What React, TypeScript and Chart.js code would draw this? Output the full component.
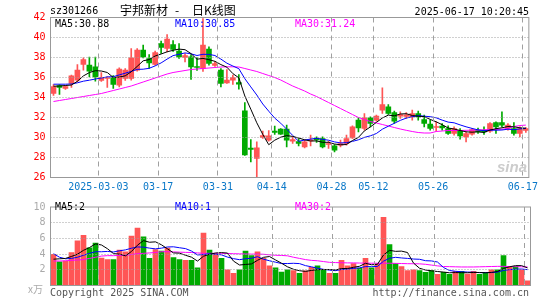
import React, { useEffect, useRef } from 'react';
import { Chart, registerables } from 'chart.js';

Chart.register(...registerables);

// ---------- data ----------
const dates = [
  '02-19','02-20','02-21','02-24','02-25','02-26','02-27','02-28',
  '03-03','03-04','03-05','03-06','03-07','03-10','03-11','03-12','03-13','03-14',
  '03-17','03-18','03-19','03-20','03-21','03-24','03-25','03-26','03-27','03-28',
  '03-31','04-01','04-02','04-03','04-07','04-08','04-09','04-10','04-11',
  '04-14','04-15','04-16','04-17','04-18','04-21','04-22','04-23','04-24','04-25',
  '04-28','04-29','04-30','05-06','05-07','05-08','05-09',
  '05-12','05-13','05-14','05-15','05-16','05-19','05-20','05-21','05-22','05-23',
  '05-26','05-27','05-28','05-29','05-30','06-03','06-04','06-05','06-06',
  '06-09','06-10','06-11','06-12','06-13','06-16','06-17',
];
const tickDates = ['03-03', '03-17', '03-31', '04-14', '04-28', '05-12', '05-26', '06-17'];
const tickTexts = ['2025-03-03', '03-17', '03-31', '04-14', '04-28', '05-12', '05-26', '06-17'];
const priceTicks = [28, 30, 32, 34, 36, 38, 40];
const volTicks = [2, 4, 6, 8];

const openP = [
  34.4, 35.2, 34.9, 35.4, 35.73, 37.3, 37.23, 37.07, 35.7, 35.9,
  36.0, 35.23, 35.9, 35.9, 36.73, 38.73, 37.9, 37.3, 39.4, 38.9,
  39.3, 38.63, 38.0, 38.07, 37.1, 36.9, 38.83, 37.2, 36.73, 35.47,
  35.73, 35.5, 32.67, 28.93, 27.9, 30.0, 29.73, 30.63, 30.83, 30.83,
  29.63, 29.6, 29.07, 29.67, 29.93, 29.9, 29.3, 29.17, 29.23, 29.4,
  29.97, 31.73, 30.9, 31.97, 31.73, 32.73, 33.07, 32.5, 32.13, 32.1,
  32.07, 32.4, 31.8, 31.33, 31.0, 31.13, 30.9, 30.4, 30.63, 30.07,
  30.33, 30.73, 30.73, 30.63, 31.5, 31.5, 30.9, 30.9, 30.4, 30.7,
];
const highP = [
  35.3, 35.3, 35.2, 36.23, 37.3, 37.97, 38.03, 38.03, 36.5, 36.1,
  36.2, 36.97, 36.9, 38.9, 38.9, 39.23, 38.3, 38.63, 39.63, 40.3,
  39.7, 39.4, 38.4, 38.3, 38.0, 41.9, 39.07, 37.6, 36.9, 36.8,
  36.23, 36.3, 33.5, 29.8, 29.57, 30.63, 30.7, 31.13, 30.9, 31.23,
  30.1, 29.9, 29.73, 30.23, 30.07, 30.07, 29.63, 29.3, 29.73, 30.23,
  31.17, 31.97, 32.4, 32.07, 32.23, 34.97, 33.3, 32.63, 32.57, 32.5,
  32.73, 32.63, 32.23, 31.73, 31.57, 31.4, 31.17, 31.07, 30.9, 30.57,
  30.9, 30.95, 31.07, 31.5, 31.57, 32.57, 31.4, 31.5, 31.07, 31.0,
];
const lowP = [
  34.2, 34.3, 34.8, 35.0, 35.57, 36.73, 36.07, 35.63, 35.6, 35.0,
  34.9, 35.07, 35.7, 35.73, 36.63, 37.97, 36.9, 37.23, 38.4, 38.57,
  38.6, 37.9, 37.57, 35.8, 36.7, 36.6, 37.23, 37.1, 35.07, 35.4,
  35.3, 34.83, 28.2, 27.57, 26.0, 29.9, 29.63, 30.3, 30.3, 29.07,
  29.4, 29.17, 28.97, 29.17, 29.5, 28.97, 28.9, 28.57, 29.07, 29.23,
  29.9, 30.57, 30.73, 31.07, 31.63, 32.4, 32.3, 31.4, 31.9, 31.9,
  31.73, 31.73, 31.07, 30.73, 30.63, 30.73, 30.3, 30.23, 29.83, 29.57,
  30.23, 30.4, 30.3, 30.5, 30.4, 31.07, 30.73, 30.23, 30.07, 30.5,
];
const closeP = [
  35.1, 35.0, 35.1, 36.17, 36.73, 37.8, 36.63, 36.07, 36.0, 36.0,
  35.3, 36.83, 36.73, 37.97, 38.73, 38.07, 37.47, 38.5, 39.0, 39.83,
  38.8, 38.07, 38.2, 37.07, 37.0, 39.23, 37.4, 37.4, 35.4, 35.73,
  36.0, 35.33, 28.27, 28.8, 28.97, 30.2, 30.17, 30.5, 30.33, 29.73,
  29.8, 29.4, 29.57, 29.77, 29.77, 29.07, 29.4, 28.73, 29.4, 29.9,
  31.07, 30.97, 31.97, 31.4, 32.13, 33.3, 32.4, 31.63, 32.3, 32.27,
  32.4, 32.07, 31.4, 30.9, 31.07, 30.97, 30.4, 30.9, 30.17, 30.4,
  30.8, 30.57, 30.57, 31.4, 31.07, 31.23, 31.23, 30.4, 30.9, 30.9,
];
const ma5 = [
  35.13, 35.15, 35.2, 35.25, 35.62, 36.16, 36.49, 36.68, 36.65, 36.5,
  36.0, 36.04, 36.17, 36.57, 37.11, 37.67, 37.79, 38.15, 38.35, 38.57,
  38.72, 38.84, 38.78, 38.39, 37.83, 37.91, 37.78, 37.62, 37.29, 37.03,
  36.39, 35.97, 34.15, 32.83, 31.47, 30.31, 29.28, 29.73, 30.03, 30.19,
  30.11, 29.95, 29.77, 29.65, 29.66, 29.52, 29.52, 29.35, 29.27, 29.3,
  29.7, 30.01, 30.66, 31.06, 31.51, 31.95, 32.24, 32.17, 32.35, 32.38,
  32.2, 32.13, 32.09, 31.81, 31.57, 31.28, 30.95, 30.85, 30.7, 30.57,
  30.53, 30.57, 30.5, 30.75, 30.88, 30.97, 31.1, 31.07, 30.97, 30.93,
];
const ma10 = [
  35.33, 35.33, 35.33, 35.35, 35.47, 35.63, 35.73, 35.85, 35.95, 36.06,
  36.08, 36.26, 36.43, 36.61, 36.81, 36.83, 36.92, 37.16, 37.46, 37.84,
  38.19, 38.32, 38.46, 38.37, 38.2, 38.32, 38.31, 38.2, 37.84, 37.43,
  37.15, 36.88, 35.88, 35.06, 34.25, 33.35, 32.63, 31.94, 31.43, 30.83,
  30.21, 29.62, 29.75, 29.84, 29.92, 29.81, 29.73, 29.56, 29.46, 29.48,
  29.61, 29.77, 30.01, 30.17, 30.4, 30.83, 31.13, 31.42, 31.71, 31.94,
  32.08, 32.19, 32.13, 32.08, 31.97, 31.74, 31.54, 31.47, 31.26, 31.07,
  30.91, 30.76, 30.68, 30.73, 30.73, 30.75, 30.83, 30.78, 30.86, 30.91,
];
const ma30 = [
  33.6, 33.7, 33.8, 33.9, 34.0, 34.1, 34.2, 34.3, 34.4, 34.55,
  34.7, 34.85, 35.0, 35.15, 35.35, 35.55, 35.75, 35.95, 36.15, 36.35,
  36.5, 36.6, 36.7, 36.8, 36.85, 36.9, 36.95, 37.0, 37.05, 37.07,
  37.07, 37.05, 36.9, 36.75, 36.6, 36.4, 36.2, 36.0, 35.75, 35.45,
  35.15, 34.9, 34.65, 34.35, 34.1, 33.8, 33.5, 33.2, 32.9, 32.6,
  32.3, 32.0, 31.8, 31.6, 31.45, 31.3, 31.15, 31.0, 30.85, 30.72,
  30.6, 30.5, 30.45, 30.45, 30.6, 30.65, 30.7, 30.7, 30.7, 30.72,
  30.73, 30.75, 30.77, 30.8, 30.8, 30.83, 30.9, 31.1, 31.2, 31.24,
];
const volume = [
  3.96, 3.0, 3.1, 4.2, 5.7, 6.4, 4.8, 5.4, 3.5, 3.3,
  3.3, 4.5, 4.3, 6.3, 7.3, 6.2, 3.45, 4.56, 4.4, 4.76,
  3.57, 3.3, 3.2, 3.2, 2.26, 6.67, 4.5, 4.05, 3.45, 2.0,
  1.55, 2.0, 4.4, 3.8, 4.3, 3.45, 2.5, 2.25, 1.7, 2.0,
  1.9, 1.55, 1.86, 2.3, 2.5, 2.0, 1.55, 1.55, 3.2, 2.5,
  2.8, 2.2, 3.45, 2.25, 2.8, 8.7, 5.2, 2.8, 2.4, 1.9,
  2.0, 1.9, 1.67, 1.9, 1.43, 1.67, 1.43, 1.8, 1.8, 1.47,
  1.8, 1.43, 1.67, 2.0, 2.0, 3.8, 2.45, 2.4, 2.0, 0.6,
];
const volMa5 = [
  3.35, 3.4, 3.45, 3.7, 3.99, 4.48, 4.84, 5.3, 5.16, 4.68,
  4.06, 4.0, 3.78, 4.34, 5.14, 5.72, 5.51, 5.56, 5.18, 4.67,
  4.15, 4.12, 3.85, 3.61, 3.11, 3.73, 3.97, 4.14, 4.19, 4.13,
  3.11, 2.61, 2.68, 2.75, 3.21, 3.59, 3.69, 3.26, 2.84, 2.38,
  2.07, 1.88, 1.8, 1.92, 2.02, 2.04, 2.04, 1.98, 2.16, 2.16,
  2.32, 2.45, 2.83, 2.64, 2.7, 3.88, 4.48, 4.35, 4.38, 4.2,
  2.86, 2.2, 1.97, 1.87, 1.78, 1.71, 1.62, 1.65, 1.63, 1.63,
  1.66, 1.66, 1.63, 1.67, 1.78, 2.18, 2.38, 2.53, 2.53, 2.25,
];
const volMa10 = [
  4.05, 3.6, 3.4, 3.45, 3.6, 3.85, 4.1, 4.3, 4.3, 4.34,
  4.27, 4.42, 4.54, 4.75, 4.91, 4.89, 4.76, 4.67, 4.76, 4.91,
  4.93, 4.81, 4.7, 4.39, 3.89, 3.94, 4.04, 3.99, 3.9, 3.62,
  3.42, 3.29, 3.41, 3.47, 3.67, 3.35, 3.15, 2.97, 2.8, 2.8,
  2.83, 2.79, 2.53, 2.38, 2.2, 2.06, 1.96, 1.89, 2.04, 2.09,
  2.18, 2.25, 2.41, 2.4, 2.43, 3.1, 3.47, 3.59, 3.51, 3.45,
  3.37, 3.34, 3.16, 3.13, 2.99, 2.29, 1.91, 1.81, 1.75, 1.71,
  1.69, 1.64, 1.64, 1.65, 1.71, 1.92, 2.02, 2.08, 2.1, 2.02,
];
const volMa30 = [
  3.12, 3.12, 3.15, 3.2, 3.25, 3.3, 3.45, 3.6, 3.75, 3.8,
  3.8, 3.83, 3.85, 3.95, 4.05, 4.1, 4.15, 4.2, 4.3, 4.3,
  4.28, 4.25, 4.22, 4.2, 4.15, 4.1, 4.1, 4.1, 4.1, 4.08,
  4.05, 4.03, 4.02, 4.0, 4.0, 3.98, 3.9, 3.85, 3.83, 3.78,
  3.6, 3.45, 3.3, 3.2, 3.15, 3.05, 2.95, 2.92, 2.9, 2.88,
  2.88, 2.86, 2.85, 2.84, 2.84, 2.84, 2.84, 2.82, 2.8, 2.78,
  2.77, 2.76, 2.7, 2.6, 2.5, 2.42, 2.4, 2.38, 2.36, 2.36,
  2.36, 2.38, 2.4, 2.42, 2.44, 2.44, 2.42, 2.4, 2.38, 2.36,
];

// ---------- styles ----------
const RED = '#ff5555';
const GREEN = '#00aa00';
const GRID = '#a0a0a0';
const BOX = '#999999';
const MONO = "'DejaVu Sans Mono', 'Liberation Mono', monospace";
const CJK = "'Noto Sans CJK SC', sans-serif";

const tickIndex = (i: number) => tickDates.indexOf(dates[i]);

// dotted/dashed grid and a solid frame, drawn once the marks are on the canvas
const makeFramePlugin = (hTicks: number[]) => ({
  id: 'framePlugin',
  afterDatasetsDraw(chart: any) {
    const { ctx, chartArea: a } = chart;
    const xs = chart.scales.x;
    const ys = chart.scales.y;
    const half = (xs.getPixelForValue(1) - xs.getPixelForValue(0)) / 2;
    ctx.save();
    ctx.globalCompositeOperation = 'source-over';
    ctx.strokeStyle = GRID;
    ctx.lineWidth = 1;
    ctx.setLineDash([1, 2]);
    hTicks.forEach((v) => {
      const py = Math.floor(ys.getPixelForValue(v)) + 0.5;
      ctx.beginPath();
      ctx.moveTo(a.left, py);
      ctx.lineTo(a.right, py);
      ctx.stroke();
    });
    ctx.setLineDash([5, 4]);
    tickDates.forEach((d) => {
      const i = dates.indexOf(d);
      const px = Math.floor(xs.getPixelForValue(i) - half) + 0.5;
      ctx.beginPath();
      ctx.moveTo(px, a.top);
      ctx.lineTo(px, a.bottom);
      ctx.stroke();
    });
    ctx.setLineDash([]);
    ctx.strokeStyle = BOX;
    ctx.strokeRect(a.left, a.top, a.right - a.left, a.bottom - a.top);
    ctx.restore();
  },
});

function xScale(showLabels: boolean) {
  return {
    type: 'category',
    offset: true,
    grid: { display: false, drawTicks: false },
    border: { display: false },
    ticks: {
      display: showLabels,
      autoSkip: false,
      maxRotation: 0,
      minRotation: 0,
      padding: 4,
      labelOffset: -3,
      color: '#0a78c8',
      font: { family: MONO, size: 10 },
      callback: (_v: any, i: number) => {
        const k = tickIndex(i);
        return k >= 0 ? tickTexts[k] : '';
      },
    },
    afterFit: (s: any) => {
      s.height = showLabels ? 18.5 : 0;
    },
  };
}

const txt = (
  left: number | null,
  cy: number,
  text: string,
  color: string,
  extra: React.CSSProperties = {}
) => (
  <span
    style={{
      position: 'absolute',
      left: left === null ? undefined : left,
      top: cy - 6,
      height: 12,
      lineHeight: '12px',
      fontFamily: MONO,
      fontSize: 10,
      color,
      whiteSpace: 'pre',
      ...extra,
    }}
  >
    {text}
  </span>
);

export default function App() {
  const priceRef = useRef<HTMLCanvasElement>(null);
  const volRef = useRef<HTMLCanvasElement>(null);

  useEffect(() => {
    document.body.style.margin = '0';
    const colors = closeP.map((c, i) => (c >= openP[i] ? RED : GREEN));

    const line = (data: number[], color: string) =>
      ({ type: 'line', data, borderColor: color, borderWidth: 1, pointRadius: 0, tension: 0, fill: false, order: 0 } as any);

    const price = new Chart(priceRef.current as HTMLCanvasElement, {
      type: 'bar',
      data: {
        labels: dates,
        datasets: [
          line(ma5, '#000000'),
          line(ma10, '#0000ff'),
          line(ma30, '#ff00ff'),
          {
            type: 'bar',
            data: openP.map((o, i) => [o, closeP[i]]),
            backgroundColor: colors,
            borderWidth: 0,
            barThickness: 5,
            minBarLength: 1,
            grouped: false,
            order: 1,
          } as any,
          {
            type: 'bar',
            data: lowP.map((l, i) => [l, highP[i]]),
            backgroundColor: colors,
            borderWidth: 0,
            barThickness: 1,
            grouped: false,
            order: 2,
          } as any,
        ],
      },
      options: {
        responsive: false,
        animation: false,
        layout: { padding: { top: 17.5, left: 0.5, right: 14.5, bottom: 0 } },
        plugins: { legend: { display: false }, tooltip: { enabled: false } },
        scales: {
          x: xScale(true) as any,
          y: {
            min: 26,
            max: 42,
            ticks: { stepSize: 2, color: '#ff0000', padding: 5, font: { family: MONO, size: 10 } },
            grid: { display: false, drawTicks: false },
            border: { display: false },
            afterFit: (s: any) => {
              s.width = 50;
            },
          } as any,
        },
      },
      plugins: [makeFramePlugin(priceTicks)],
    });

    const vol = new Chart(volRef.current as HTMLCanvasElement, {
      type: 'bar',
      data: {
        labels: dates,
        datasets: [
          line(volMa5, '#000000'),
          line(volMa10, '#0000ff'),
          line(volMa30, '#ff00ff'),
          {
            type: 'bar',
            data: volume,
            backgroundColor: colors,
            borderWidth: 0,
            barThickness: 5,
            grouped: false,
            order: 1,
          } as any,
        ],
      },
      options: {
        responsive: false,
        animation: false,
        layout: { padding: { top: 6.5, left: 0.5, right: 14.5, bottom: 14.5 } },
        plugins: { legend: { display: false }, tooltip: { enabled: false } },
        scales: {
          x: xScale(false) as any,
          y: {
            min: 0,
            max: 10,
            ticks: {
              stepSize: 2,
              color: '#aaaaaa',
              padding: 5,
              font: { family: MONO, size: 10 },
              callback: (v: any) => (v === 0 ? '' : String(v)),
            },
            grid: { display: false, drawTicks: false },
            border: { display: false },
            afterFit: (s: any) => {
              s.width = 50;
            },
          } as any,
        },
      },
      plugins: [makeFramePlugin(volTicks)],
    });

    return () => {
      price.destroy();
      vol.destroy();
    };
  }, []);

  return (
    <div
      style={{
        position: 'fixed',
        left: 0,
        top: 0,
        width: 545,
        height: 300,
        background: '#ffffff',
        overflow: 'hidden',
      }}
    >
      <canvas ref={priceRef} width={545} height={196} style={{ position: 'absolute', left: 0, top: 0 }} />
      <canvas ref={volRef} width={545} height={104} style={{ position: 'absolute', left: 0, top: 196 }} />

      {txt(50, 11, 'sz301266', '#000000')}
      {txt(120, 10, '宇邦新材', '#000000', { fontFamily: CJK, fontSize: 12 })}
      {txt(175, 10, '-', '#000000', { fontFamily: CJK, fontSize: 12 })}
      {txt(192, 10, '日K线图', '#000000', { fontFamily: CJK, fontSize: 12 })}
      {txt(null, 12, '2025-06-17 10:20:45', '#000000', { right: 16 })}

      {txt(55, 23.5, 'MA5:30.88', '#000000')}
      {txt(175, 23.5, 'MA10:30.85', '#0000ff')}
      {txt(295, 23.5, 'MA30:31.24', '#ff00ff')}

      {txt(497, 167, 'sina', '#cccccc', { fontFamily: "'Liberation Sans', sans-serif", fontSize: 15, fontWeight: 'bold', fontStyle: 'italic' })}

      {txt(55, 207, 'MA5:2', '#000000')}
      {txt(175, 207, 'MA10:1', '#0000ff')}
      {txt(295, 207, 'MA30:2', '#ff00ff')}

      {txt(28, 289, 'x万', '#aaaaaa', { fontFamily: CJK })}
      {txt(50, 292.5, 'Copyright 2025 SINA.COM', '#555555')}
      {txt(null, 292.5, 'http://finance.sina.com.cn', '#555555', { right: 16 })}
    </div>
  );
}
